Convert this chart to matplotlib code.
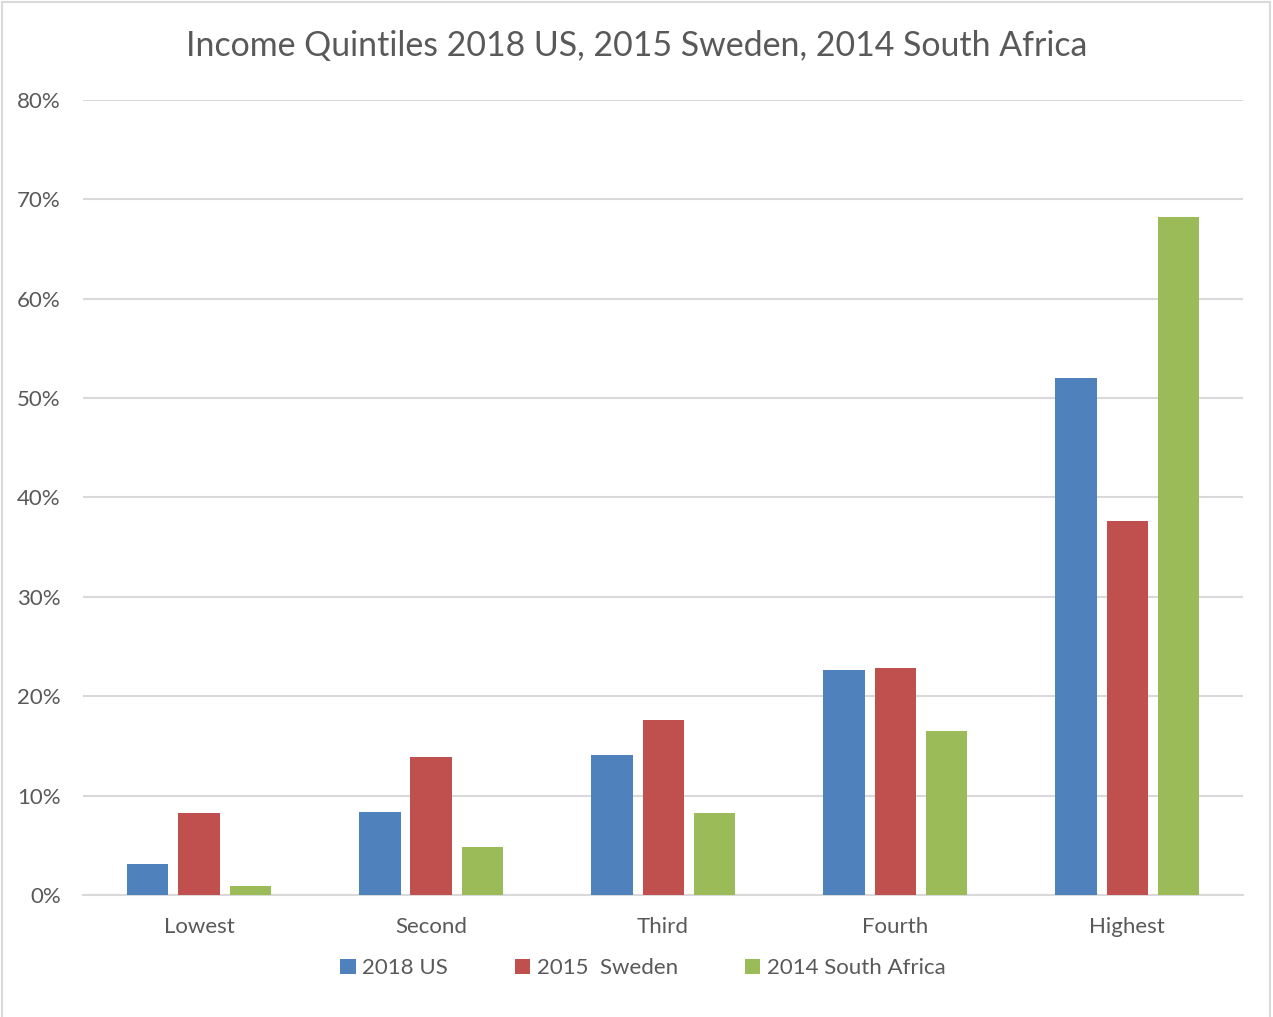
import numpy as np
import matplotlib.pyplot as plt
from matplotlib.patches import Rectangle

plt.rcParams['font.family'] = ['Lato', 'DejaVu Sans']

quintiles = ['Lowest', 'Second', 'Third', 'Fourth', 'Highest']
us_2018 = [3.1, 8.3, 14.1, 22.6, 52.0]
sweden_2015 = [8.2, 13.9, 17.6, 22.8, 37.6]
south_africa_2014 = [0.9, 4.8, 8.2, 16.5, 68.2]

series = [
    ('2018 US', us_2018, '#4f81bd'),
    ('2015  Sweden', sweden_2015, '#c0504d'),
    ('2014 South Africa', south_africa_2014, '#9bbb59'),
]

text_col = '#595959'
grid_col = '#d9d9d9'

fig = plt.figure(figsize=(12.73, 10.17), dpi=100)
ax = fig.add_axes([0.0652, 0.12, 0.9113, 0.7817])

x = np.arange(len(quintiles))
width = 0.177
step = 0.22
for i, (name, vals, col) in enumerate(series):
    ax.bar(x + (i - 1) * step, vals, width, color=col, label=name, zorder=3)

ax.set_xlim(-0.5, 4.5)
ax.set_ylim(0, 80)
ax.set_yticks(np.arange(0, 81, 10))
ax.set_yticklabels([f'{v}%' for v in range(0, 81, 10)])
ax.set_xticks(x)
ax.set_xticklabels(quintiles)
ax.tick_params(axis='both', length=0, labelsize=16, colors=text_col)
ax.tick_params(axis='x', pad=16)
ax.tick_params(axis='y', pad=16)

ax.grid(axis='y', color=grid_col, linewidth=1.5, zorder=0)
for side in ['top', 'right', 'left']:
    ax.spines[side].set_visible(False)
ax.spines['bottom'].set_color(grid_col)
ax.spines['bottom'].set_linewidth(1.5)

fig.text(0.5, 0.955, 'Income Quintiles 2018 US, 2015 Sweden, 2014 South Africa',
         ha='center', va='center', fontsize=24.4, color=text_col)

fig.legend(loc='center', bbox_to_anchor=(0.505, 0.048), ncol=3, frameon=False,
           fontsize=16, labelcolor=text_col, handlelength=0.7, handleheight=0.7,
           handletextpad=0.3, columnspacing=3.0)

fig.patches.append(Rectangle((0.0015, -0.01), 0.996, 1.008, transform=fig.transFigure,
                             fill=False, edgecolor=grid_col, linewidth=1.5))

fig.savefig('out.png', dpi=100, facecolor='white')
